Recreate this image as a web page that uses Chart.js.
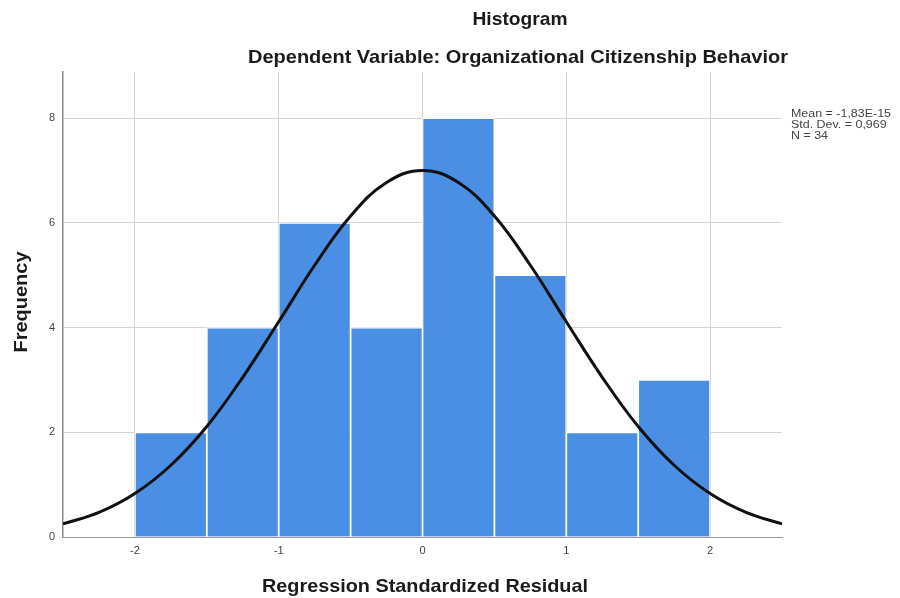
<!DOCTYPE html>
<html>
<head>
<meta charset="utf-8">
<script src="https://cdn.jsdelivr.net/npm/chart.js@4.4.1/dist/chart.umd.min.js"></script>
<style>
  html, body { margin: 0; padding: 0; background: #ffffff; }
  #wrap { width: 900px; height: 598px; position: relative; }
</style>
</head>
<body>
<div id="wrap"><canvas id="c" width="900" height="598"></canvas></div>
<script>
// ---- data ----
const binCenters = [-1.75, -1.25, -0.75, -0.25, 0.25, 0.75, 1.25, 1.75];
const frequencies = [2, 4, 6, 4, 8, 5, 2, 3];
const curveX = [-2.5, -2.25, -2.0, -1.75, -1.5, -1.25, -1.0, -0.75, -0.5, -0.25, 0, 0.25, 0.5, 0.75, 1.0, 1.25, 1.5, 1.75, 2.0, 2.25, 2.5];
const curveY = [0.25, 0.47, 0.83, 1.37, 2.11, 3.05, 4.11, 5.19, 6.13, 6.77, 7.0, 6.77, 6.13, 5.19, 4.11, 3.05, 2.11, 1.37, 0.83, 0.47, 0.25];
const xTicks = [-2, -1, 0, 1, 2];
const yTicks = [0, 2, 4, 6, 8];
const titleText = 'Histogram';
const subtitleText = 'Dependent Variable: Organizational Citizenship Behavior';
const xTitle = 'Regression Standardized Residual';
const yTitle = 'Frequency';
const statsLines = ['Mean = -1,83E-15', 'Std. Dev. = 0,969', 'N = 34'];

function fitText(ctx, text, x, y, font, targetW, align, color) {
  ctx.save();
  ctx.font = font;
  const w = ctx.measureText(text).width;
  const s = targetW / w;
  ctx.translate(x, y);
  ctx.scale(s, 1);
  ctx.textAlign = align;
  ctx.textBaseline = 'alphabetic';
  ctx.fillStyle = color;
  ctx.fillText(text, 0, 0);
  ctx.restore();
}

const textPlugin = {
  id: 'texts',
  afterDraw(chart) {
    const ctx = chart.ctx;
    const F = '"Liberation Sans", Arial, sans-serif';
    fitText(ctx, titleText, 520, 25, 'bold 19px ' + F, 95, 'center', '#1a1a1a');
    fitText(ctx, subtitleText, 518, 63, 'bold 19px ' + F, 540, 'center', '#1a1a1a');
    fitText(ctx, xTitle, 425, 592, 'bold 19px ' + F, 326, 'center', '#1a1a1a');
    // y title rotated
    ctx.save();
    ctx.translate(27, 302);
    ctx.rotate(-Math.PI / 2);
    ctx.font = 'bold 19px ' + F;
    const w = ctx.measureText(yTitle).width;
    ctx.scale(101 / w, 1);
    ctx.textAlign = 'center';
    ctx.fillStyle = '#1a1a1a';
    ctx.fillText(yTitle, 0, 0);
    ctx.restore();
    // stats block
    ctx.save();
    ctx.font = '11px ' + F;
    const s = 100 / ctx.measureText(statsLines[0]).width;
    ctx.fillStyle = '#444';
    ctx.textAlign = 'left';
    statsLines.forEach((t, i) => {
      ctx.save();
      ctx.translate(791, 117 + i * 11);
      ctx.scale(s, 1);
      ctx.fillText(t, 0, 0);
      ctx.restore();
    });
    ctx.restore();
  }
};

new Chart(document.getElementById('c'), {
  data: {
    datasets: [
      {
        type: 'line',
        data: curveX.map((x, i) => ({ x: x, y: curveY[i] })),
        borderColor: '#111111',
        borderWidth: 3,
        pointRadius: 0,
        tension: 0.4,
        fill: false,
        order: 0
      },
      {
        type: 'bar',
        data: binCenters.map((x, i) => ({ x: x, y: frequencies[i] })),
        backgroundColor: '#4a8fe3',
        borderColor: '#ffffff',
        borderWidth: 1.2,
        borderSkipped: 'bottom',
        barPercentage: 1.0,
        categoryPercentage: 1.0,
        order: 1
      }
    ]
  },
  options: {
    responsive: false,
    animation: false,
    events: [],
    layout: { padding: { left: 0, right: 118, top: 72, bottom: 0 } },
    plugins: { legend: { display: false }, tooltip: { enabled: false }, title: { display: false } },
    scales: {
      x: {
        type: 'linear',
        min: -2.5,
        max: 2.5,
        offset: false,
        afterBuildTicks(scale) { scale.ticks = xTicks.map(v => ({ value: v })); },
        afterFit(scale) { scale.height = 61; },
        ticks: { font: { family: '"Liberation Sans", Arial', size: 11 }, color: '#444', padding: 7, maxRotation: 0, autoSkip: false },
        grid: { color: '#d4d4d4', lineWidth: 1, drawTicks: false, offset: false },
        border: { color: '#9a9a9a', width: 1 }
      },
      y: {
        type: 'linear',
        min: 0,
        max: 8.88,
        afterBuildTicks(scale) { scale.ticks = yTicks.map(v => ({ value: v })); },
        afterFit(scale) { scale.width = 63; },
        ticks: { font: { family: '"Liberation Sans", Arial', size: 11 }, color: '#444', padding: 8 },
        grid: { color: '#d4d4d4', lineWidth: 1, drawTicks: false },
        border: { color: '#8a8a8a', width: 1.5 }
      }
    }
  },
  plugins: [textPlugin]
});
</script>
</body>
</html>
